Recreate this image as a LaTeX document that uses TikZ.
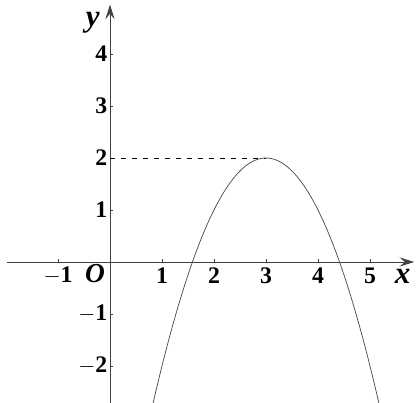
\documentclass[tikz,border=0pt]{standalone}
\usepackage{fontspec}
\setmainfont{Liberation Serif}
\usetikzlibrary{arrows.meta}
\tikzset{
  axis/.style={thin, black!75, -{Stealth[length=8pt,width=5pt,inset=3pt]}},
  ticklabel/.style={font=\fontsize{13}{15}\selectfont\bfseries, inner sep=1pt},
  axislabel/.style={font=\fontsize{17}{19}\selectfont\bfseries\itshape, inner sep=0pt}
}
\begin{document}
\begin{tikzpicture}
  \useasboundingbox (-2.115,-2.71) rectangle (5.962,5.038);
  \coordinate (O) at (0,0);
  \coordinate (xs) at (-1.98,0);
  \coordinate (xe) at (5.85,0);
  \coordinate (ys) at (0,-2.71);
  \coordinate (ye) at (0,4.95);
  \coordinate (V) at (3,2);
  \coordinate (Y2) at (0,2);
  \draw[axis] (xs) -- (xe);
  \draw[axis] (ys) -- (ye);
  \node[axislabel] (ylab) at (-0.33,4.6) {y};
  \node[axislabel] (xlab) at (5.63,-0.28) {x};
  \node[axislabel, font=\fontsize{15}{17}\selectfont\bfseries\itshape] (olab) at (-0.29,-0.22) {O};
  % ticks on the x axis
  \foreach \x in {-1,1,2,3,4,5}
    \draw[black!75] (\x,0) -- (\x,0.05);
  \foreach \x in {-1,1,2,3,4,5}
    \node[ticklabel] (xt\x) at (\x,-0.26) {\ifnum\x<0 $-$\fi\the\numexpr\ifnum\x<0 -\fi\x\relax};
  % ticks on the y axis
  \foreach \y in {-2,-1,1,2,3,4}
    \draw[black!75] (0,\y) -- (0.05,\y);
  \foreach \y in {-2,-1,1,2,3,4}
    \node[ticklabel, anchor=east] (yt\y) at (-0.01,\y) {\ifnum\y<0 $-$\fi\the\numexpr\ifnum\y<0 -\fi\y\relax};
  \draw[dashed, black] (Y2) -- (V);
  \draw[black!70, thin, domain=0.83:5.17, samples=80] plot (\x, {2-(\x-3)*(\x-3)});
\end{tikzpicture}
\end{document}
